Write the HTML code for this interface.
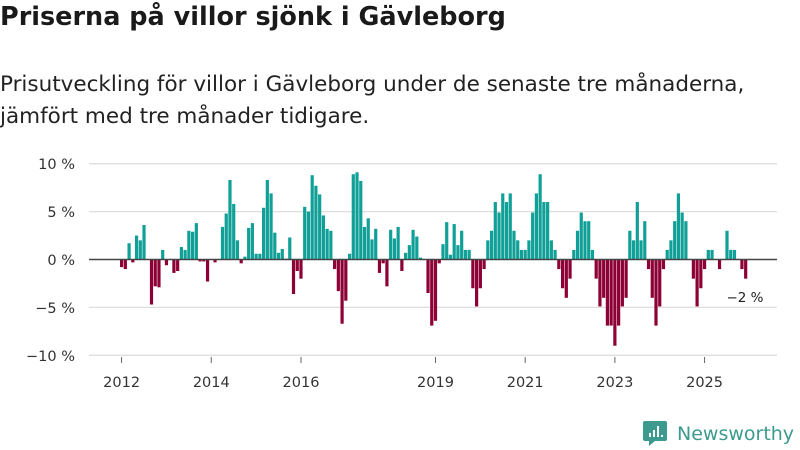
<!DOCTYPE html>
<html><head><meta charset="utf-8">
<style>
body{margin:0;background:#fff;font-family:"DejaVu Sans","Liberation Sans",sans-serif;}
#wrap{position:relative;width:800px;height:450px;overflow:hidden;}
h1{position:absolute;left:0;top:2px;margin:0;font-size:25.5px;font-weight:bold;color:#1a1a1a;font-family:"DejaVu Sans","Liberation Sans",sans-serif;}
.sub{position:absolute;left:0;top:69px;font-size:21.5px;line-height:32px;color:#222;font-family:"DejaVu Sans","Liberation Sans",sans-serif;}
svg{position:absolute;left:0;top:0;}
</style></head><body>
<div id="wrap">
<h1>Priserna på villor sjönk i Gävleborg</h1>
<div class="sub">Prisutveckling för villor i Gävleborg under de senaste tre månaderna,<br>jämfört med tre månader tidigare.</div>
<svg id="chart" width="800" height="450"></svg>
</div>
<script>
const startYear = 2012;
const values = [
-0.8,-1.0,1.7,-0.3,2.5,2.0,3.6,0,-4.7,-2.8,-2.9,1.0,
-0.6,0,-1.4,-1.2,1.3,1.0,3.0,2.9,3.8,-0.2,-0.2,-2.3,
0,-0.3,0,3.4,4.8,8.3,5.8,2.0,-0.4,0.3,3.3,3.8,
0.6,0.6,5.4,8.3,6.9,2.8,0.7,1.1,0.1,2.3,-3.6,-1.2,
-2.0,5.5,5.0,8.8,7.7,6.8,4.6,3.2,3.0,-1.0,-3.3,-6.7,
-4.3,0.6,8.9,9.1,8.2,3.4,4.3,2.1,3.2,-1.4,-0.4,-2.8,
3.1,2.2,3.4,-1.2,0.7,1.5,3.1,2.4,0.2,0,-3.5,-6.9,
-6.4,-0.4,1.6,3.9,0.5,3.7,1.5,3.0,1.0,1.0,-3.0,-4.9,
-3.0,-1.0,2.0,3.0,6.0,4.9,6.9,6.0,6.9,3.0,2.0,1.0,
1.0,2.0,4.9,6.9,8.9,6.0,6.0,2.0,1.0,-1.0,-3.0,-4.0,
-2.0,1.0,3.0,4.9,4.0,4.0,1.0,-2.0,-4.9,-4.0,-6.9,-6.9,
-9.0,-6.9,-4.9,-4.0,3.0,2.0,6.0,2.0,4.0,-1.0,-4.0,-6.9,
-4.9,-1.0,1.0,2.0,4.0,6.9,4.9,4.0,0,-2.0,-4.9,-3.0,
-1.0,1.0,1.0,0,-1.0,0,3.0,1.0,1.0,0,-1.0,-2.0
];
const yTicks = [10,5,0,-5,-10];
const yTickLabels = ["10 %","5 %","0 %","−5 %","−10 %"];
const xTickYears = [2012,2014,2016,2019,2021,2023,2025];
const lastLabel = "−2 %";

const NS="http://www.w3.org/2000/svg";
const svg=document.getElementById('chart');
const FF='DejaVu Sans, Liberation Sans, sans-serif';
const x0=120, step=3.737, barW=3.2;
const xScale=i=>x0+i*step;
const yScale=v=>259.5-v*9.58;
function el(t,a){const e=document.createElementNS(NS,t);for(const k in a)e.setAttribute(k,a[k]);svg.appendChild(e);return e;}

yTicks.forEach((t,i)=>{
  if(t!==0){const g=el('line',{x1:89,x2:777,y1:yScale(t),y2:yScale(t),stroke:'#dedede','stroke-width':1.3});
  
  }
  const tx=el('text',{x:75,y:yScale(t)+5.5,'text-anchor':'end','font-size':14.5,fill:'#333','font-family':FF});
  tx.textContent=yTickLabels[i];
  
  
});
values.forEach((v,i)=>{
  const y=v>=0?yScale(v):yScale(0);
  const h=Math.abs(yScale(v)-yScale(0));
  const r=el('rect',{x:xScale(i),y:y,width:barW,height:h,fill:v>=0?'#11a097':'#8c0035'});
  
  
});
const zl=el('line',{x1:89,x2:777,y1:yScale(0),y2:yScale(0),stroke:'#444','stroke-width':1.6});


xTickYears.forEach(yr=>{
  const i=(yr-startYear)*12;
  const xx=xScale(i)+barW/2;
  const tk=el('line',{x1:xx,x2:xx,y1:357,y2:363,stroke:'#666','stroke-width':1});
  
  
  const tx=el('text',{x:xx,y:387,'text-anchor':'middle','font-size':14.5,fill:'#333','font-family':FF});
  tx.textContent=yr;
  
  
});
const ll=el('text',{x:745,y:302,'text-anchor':'middle','font-size':13.5,fill:'#222','font-family':FF});
ll.textContent=lastLabel;



// logo
const lg=el('g',{});


const ic=document.createElementNS(NS,'path');
ic.setAttribute('d','M645 421 h20 a2 2 0 0 1 2 2 v16 a2 2 0 0 1 -2 2 h-10 l-6 5 v-5 h-4 a2 2 0 0 1 -2 -2 v-16 a2 2 0 0 1 2 -2z');
ic.setAttribute('fill','#3c9a8f');


lg.appendChild(ic);
[[649,433,2,4],[653,430,2,7],[657,426,2,11],[661,435,2,2]].forEach(b=>{
  const r=document.createElementNS(NS,'rect');
  r.setAttribute('x',b[0]);r.setAttribute('y',b[1]);r.setAttribute('width',b[2]);r.setAttribute('height',b[3]);r.setAttribute('fill','#fff');
  lg.appendChild(r);
});
const lt=document.createElementNS(NS,'text');
lt.setAttribute('x',677);lt.setAttribute('y',440);lt.setAttribute('font-size',19);lt.setAttribute('fill','#3c9a8f');lt.setAttribute('font-family',FF);
lt.textContent='Newsworthy';


lg.appendChild(lt);
</script>
</body></html>
